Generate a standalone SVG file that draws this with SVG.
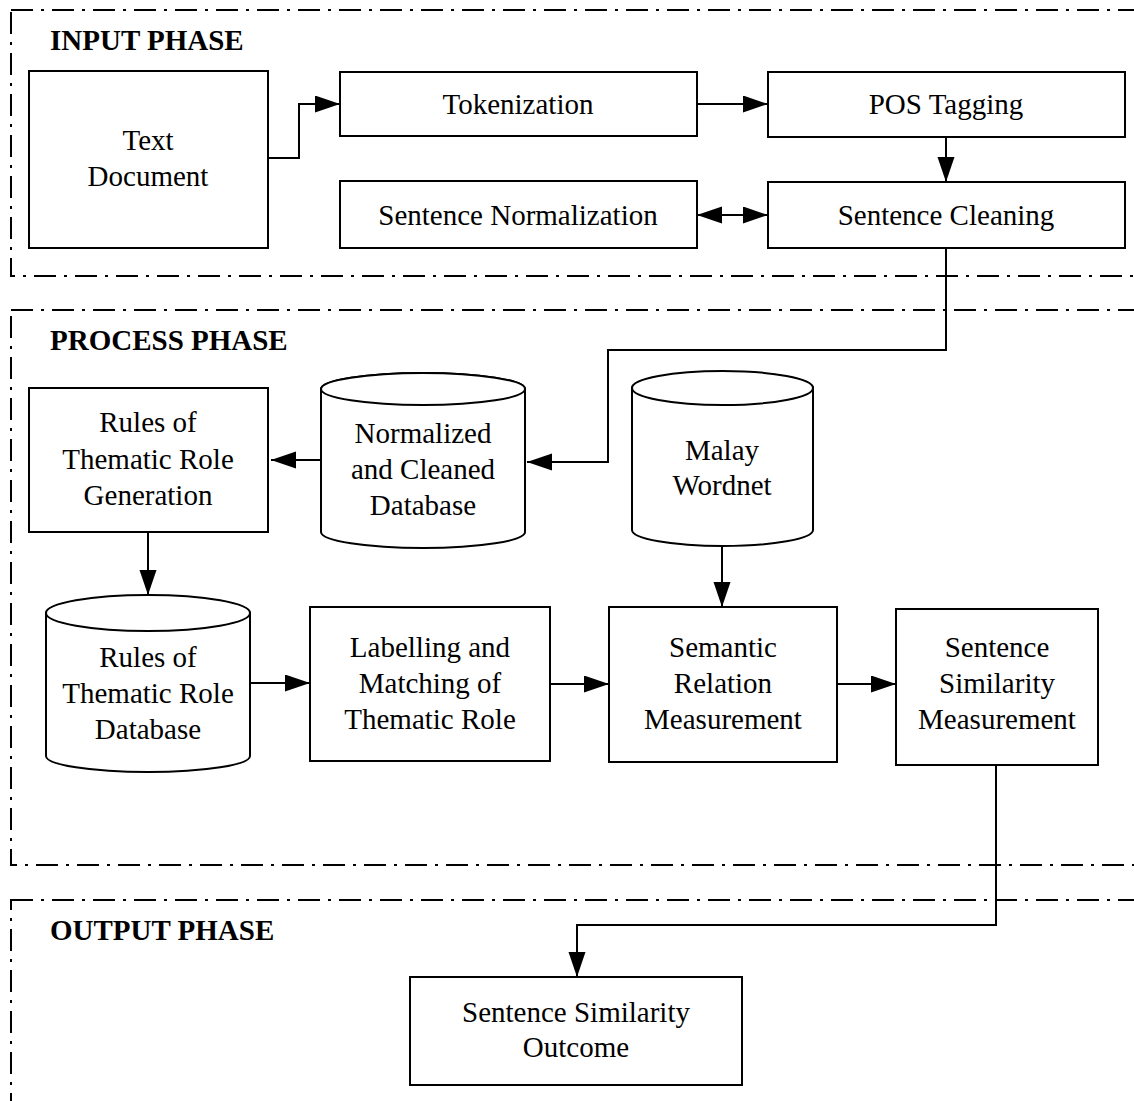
<svg xmlns="http://www.w3.org/2000/svg" width="1134" height="1101" viewBox="0 0 1134 1101">
<style>
.frame{fill:none;stroke:#000;stroke-width:2;stroke-dasharray:22 8 3 8}
.box{fill:#fff;stroke:#000;stroke-width:2}
.line{fill:none;stroke:#000;stroke-width:2}
text{font-family:"Liberation Serif","Times New Roman",serif;font-size:29px;fill:#000}
.c{text-anchor:middle}
.h{font-weight:bold}
</style>
<defs>
<marker id="ah" markerUnits="userSpaceOnUse" markerWidth="26" markerHeight="18" refX="25" refY="8.5" orient="auto-start-reverse" viewBox="0 0 26 18">
<path d="M0,0 L25,8.5 L0,17 Z" fill="#000"/>
</marker>
</defs>
<rect id="phase-bg" x="0" y="0" width="1134" height="1101" fill="#fff"/>
<g id="frames">
<rect class="frame" x="11" y="10" width="1140" height="266"/>
<rect class="frame" x="11" y="310" width="1140" height="555"/>
<rect class="frame" x="11" y="900" width="1140" height="300"/>
<text class="h" x="50" y="50">INPUT PHASE</text>
<text class="h" x="50" y="350">PROCESS PHASE</text>
<text class="h" x="50" y="940">OUTPUT PHASE</text>
</g>
<g id="connectors">
<path class="line" d="M268,158 H299 V104 H340" marker-end="url(#ah)"/>
<path class="line" d="M697,104 H768" marker-end="url(#ah)"/>
<path class="line" d="M946,137 V182" marker-end="url(#ah)"/>
<path class="line" d="M697,215 H768" marker-start="url(#ah)" marker-end="url(#ah)"/>
<path class="line" d="M946,248 V350 H608 V462 H527" marker-end="url(#ah)"/>
<path class="line" d="M321,460 H271" marker-end="url(#ah)"/>
<path class="line" d="M148,532 V595" marker-end="url(#ah)"/>
<path class="line" d="M250,683 H310" marker-end="url(#ah)"/>
<path class="line" d="M550,684 H609" marker-end="url(#ah)"/>
<path class="line" d="M722,547 V607" marker-end="url(#ah)"/>
<path class="line" d="M837,684 H896" marker-end="url(#ah)"/>
<path class="line" d="M996,765 V925 H577 V977" marker-end="url(#ah)"/>
</g>
<g id="text-document">
<rect class="box" x="29" y="71" width="239" height="177"/>
<text class="c" x="148" y="150">Text</text>
<text class="c" x="148" y="186">Document</text>
</g>
<g id="tokenization">
<rect class="box" x="340" y="72" width="357" height="64"/>
<text class="c" x="518" y="114">Tokenization</text>
</g>
<g id="pos-tagging">
<rect class="box" x="768" y="72" width="357" height="65"/>
<text class="c" x="946" y="114">POS Tagging</text>
</g>
<g id="sentence-normalization">
<rect class="box" x="340" y="181" width="357" height="67"/>
<text class="c" x="518" y="225">Sentence Normalization</text>
</g>
<g id="sentence-cleaning">
<rect class="box" x="768" y="182" width="357" height="66"/>
<text class="c" x="946" y="225">Sentence Cleaning</text>
</g>
<g id="rules-generation">
<rect class="box" x="29" y="388" width="239" height="144"/>
<text class="c" x="148" y="432">Rules of</text>
<text class="c" x="148" y="469">Thematic Role</text>
<text class="c" x="148" y="505">Generation</text>
</g>
<g id="normalized-db">
<path class="box" d="M321,389 V532 A102,16 0 0 0 525,532 V389 A102,16 0 0 0 321,389 Z"/>
<ellipse class="box" cx="423" cy="389" rx="102" ry="16"/>
<text class="c" x="423" y="443">Normalized</text>
<text class="c" x="423" y="479">and Cleaned</text>
<text class="c" x="423" y="515">Database</text>
</g>
<g id="malay-wordnet">
<path class="box" d="M632,388 V530 A90.5,16 0 0 0 813,530 V388 A90.5,16 0 0 0 632,388 Z"/>
<ellipse class="box" cx="722.5" cy="388" rx="90.5" ry="17"/>
<text class="c" x="722" y="460">Malay</text>
<text class="c" x="722" y="495">Wordnet</text>
</g>
<g id="rules-db">
<path class="box" d="M46,613 V756 A102,16 0 0 0 250,756 V613 A102,16 0 0 0 46,613 Z"/>
<ellipse class="box" cx="148" cy="613" rx="102" ry="18"/>
<text class="c" x="148" y="667">Rules of</text>
<text class="c" x="148" y="703">Thematic Role</text>
<text class="c" x="148" y="739">Database</text>
</g>
<g id="labelling">
<rect class="box" x="310" y="607" width="240" height="154"/>
<text class="c" x="430" y="657">Labelling and</text>
<text class="c" x="430" y="693">Matching of</text>
<text class="c" x="430" y="729">Thematic Role</text>
</g>
<g id="semantic-relation">
<rect class="box" x="609" y="607" width="228" height="155"/>
<text class="c" x="723" y="657">Semantic</text>
<text class="c" x="723" y="693">Relation</text>
<text class="c" x="723" y="729">Measurement</text>
</g>
<g id="sentence-similarity">
<rect class="box" x="896" y="609" width="202" height="156"/>
<text class="c" x="997" y="657">Sentence</text>
<text class="c" x="997" y="693">Similarity</text>
<text class="c" x="997" y="729">Measurement</text>
</g>
<g id="outcome">
<rect class="box" x="410" y="977" width="332" height="108"/>
<text class="c" x="576" y="1022">Sentence Similarity</text>
<text class="c" x="576" y="1057">Outcome</text>
</g>
</svg>
